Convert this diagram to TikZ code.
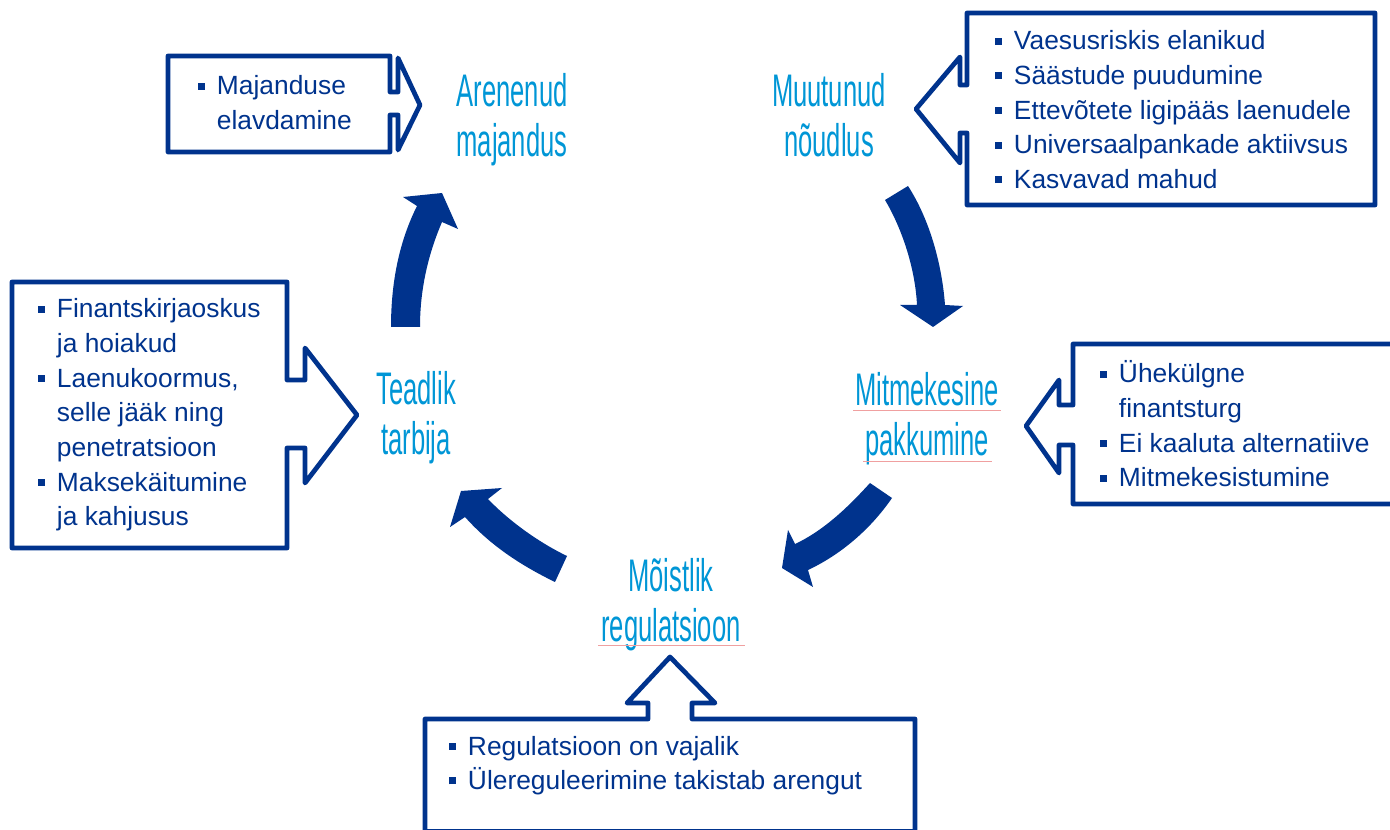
\documentclass[tikz,border=0pt]{standalone}
\usepackage{fontspec}
\setmainfont{Liberation Sans}
\newfontfamily\condfont[FakeStretch=0.56]{Liberation Sans}
\usepackage{xcolor}
\definecolor{dblue}{RGB}{0,51,141}
\definecolor{lblue}{RGB}{0,150,214}
\definecolor{spellred}{RGB}{240,160,160}
\newcommand{\bodyfont}{\fontsize{15}{19.7}\selectfont}
\newcommand{\titlefont}{\condfont\fontsize{26}{28.4}\selectfont}
\newcommand{\bulsq}{\makebox[10.6pt][l]{\raisebox{3pt}{\rule{3.9pt}{3.9pt}}}}
\newcommand{\contl}{\hspace*{10.6pt}}
\tikzset{
  callout/.style={draw=dblue, line width=2.7pt, line join=round},
  cyclearrow/.style={fill=dblue},
  title/.style={anchor=base, text=lblue, font=\titlefont},
  list/.style={anchor=base west, text=dblue, font=\bodyfont},
  spell/.style={draw=spellred, line width=0.45pt}
}

\begin{document}
\begin{tikzpicture}[scale=0.2]
        \tikzstyle{every node}+=[inner sep=0pt]
        \clip (0,0) rectangle (139,-83);
        % callout boxes
        \draw [callout] (16.8,-5.6) -- (39.0,-5.6) -- (39.0,-9.2) -- (39.8,-9.2) -- (39.8,-5.8) -- (42.0,-10.5) -- (39.8,-15.0) -- (39.8,-11.5) -- (39.0,-11.5) -- (39.0,-15.2) -- (16.8,-15.2) -- cycle;
        \draw [callout] (96.7,-1.3) -- (137.5,-1.3) -- (137.5,-20.5) -- (96.7,-20.5) -- (96.7,-13.3) -- (96.0,-13.3) -- (96.0,-16.3) -- (91.6,-10.9) -- (96.0,-5.7) -- (96.0,-8.5) -- (96.7,-8.5) -- cycle;
        \draw [callout] (107.3,-34.4) -- (141,-34.4) -- (141,-50.4) -- (107.3,-50.4) -- (107.3,-44.5) -- (105.9,-44.5) -- (105.9,-47.3) -- (102.6,-42.6) -- (105.9,-38.0) -- (105.9,-40.5) -- (107.3,-40.5) -- cycle;
        \draw [callout] (1.2,-28.2) -- (28.7,-28.2) -- (28.7,-38.0) -- (30.5,-38.0) -- (30.5,-34.8) -- (35.7,-41.5) -- (30.5,-48.3) -- (30.5,-44.8) -- (28.7,-44.8) -- (28.7,-54.8) -- (1.2,-54.8) -- cycle;
        \draw [callout] (42.5,-71.9) -- (64.8,-71.9) -- (64.8,-70.3) -- (62.7,-70.3) -- (67.0,-65.7) -- (71.5,-70.3) -- (69.2,-70.3) -- (69.2,-71.9) -- (91.5,-71.9) -- (91.5,-83.15) -- (42.5,-83.15) -- cycle;
        % cycle arrows
        \fill [cyclearrow] (39.1,-32.7) .. controls (39.1,-28.0) and (40.0,-24.0) .. (41.7,-20.6) -- (40.3,-19.7) -- (44.2,-19.3) -- (45.8,-22.9) -- (44.2,-22.2) .. controls (43.0,-25.0) and (42.0,-28.5) .. (42.0,-32.7) -- cycle;
        \fill [cyclearrow] (88.5,-20.0) .. controls (90.0,-22.5) and (91.5,-26.5) .. (91.7,-30.5) -- (90.0,-30.5) -- (93.3,-32.7) -- (96.3,-30.6) -- (94.5,-30.5) .. controls (94.2,-26.5) and (93.0,-22.0) .. (90.8,-18.6) -- cycle;
        \fill [cyclearrow] (87.0,-48.3) .. controls (85.0,-50.5) and (82.5,-53.0) .. (79.5,-54.4) -- (78.8,-53.0) -- (78.2,-56.8) -- (81.3,-58.7) -- (80.8,-57.0) .. controls (84.0,-55.5) and (87.0,-53.0) .. (89.2,-49.8) -- cycle;
        \fill [cyclearrow] (56.7,-55.6) .. controls (54.0,-54.3) and (51.0,-52.2) .. (48.8,-49.9) -- (50.2,-48.8) -- (46.1,-49.1) -- (45.0,-52.7) -- (46.5,-51.7) .. controls (49.0,-54.5) and (52.0,-56.5) .. (55.5,-58.2) -- cycle;
        % titles
        \node (arenenud) [title] at (51.2,-10.7) {\begin{tabular}[t]{@{}c@{}}Arenenud\\majandus\end{tabular}};
        \node (muutunud) [title] at (82.9,-10.7) {\begin{tabular}[t]{@{}c@{}}Muutunud\\nõudlus\end{tabular}};
        \node (mitmekesine) [title] at (92.7,-40.6) {\begin{tabular}[t]{@{}c@{}}Mitmekesine\\pakkumine\end{tabular}};
        \node (teadlik) [title] at (41.6,-40.5) {\begin{tabular}[t]{@{}c@{}}Teadlik\\tarbija\end{tabular}};
        \node (moistlik) [title] at (67.1,-59.2) {\begin{tabular}[t]{@{}c@{}}Mõistlik\\regulatsioon\end{tabular}};
        \draw [spell] (85.3,-41.0) -- (100.1,-41.0);
        \draw [spell] (86.3,-46.1) -- (99.2,-46.1);
        \draw [spell] (59.8,-64.5) -- (74.5,-64.5);
        % bullet lists
        \node (elavdamine) [list] at (19.8,-9.5) {\begin{tabular}[t]{@{}l@{}}\bulsq Majanduse\\\contl elavdamine\end{tabular}};
        \node (noudlusread) [list] at (99.5,-5.0) {\begin{tabular}[t]{@{}l@{}}\bulsq Vaesusriskis elanikud\\\bulsq Säästude puudumine\\\bulsq Ettevõtete ligipääs laenudele\\\bulsq Universaalpankade aktiivsus\\\bulsq Kasvavad mahud\end{tabular}};
        \node (pakkumineread) [list] at (110.0,-38.3) {\begin{tabular}[t]{@{}l@{}}\bulsq Ühekülgne\\\contl finantsturg\\\bulsq Ei kaaluta alternatiive\\\bulsq Mitmekesistumine\end{tabular}};
        \node (tarbijaread) [list] at (3.8,-31.8) {\begin{tabular}[t]{@{}l@{}}\bulsq Finantskirjaoskus\\\contl ja hoiakud\\\bulsq Laenukoormus,\\\contl selle jääk ning\\\contl penetratsioon\\\bulsq Maksekäitumine\\\contl ja kahjusus\end{tabular}};
        \node (regulread) [list] at (44.9,-75.5) {\begin{tabular}[t]{@{}l@{}}\bulsq Regulatsioon on vajalik\\\bulsq Ülereguleerimine takistab arengut\end{tabular}};
\end{tikzpicture}
\end{document}
